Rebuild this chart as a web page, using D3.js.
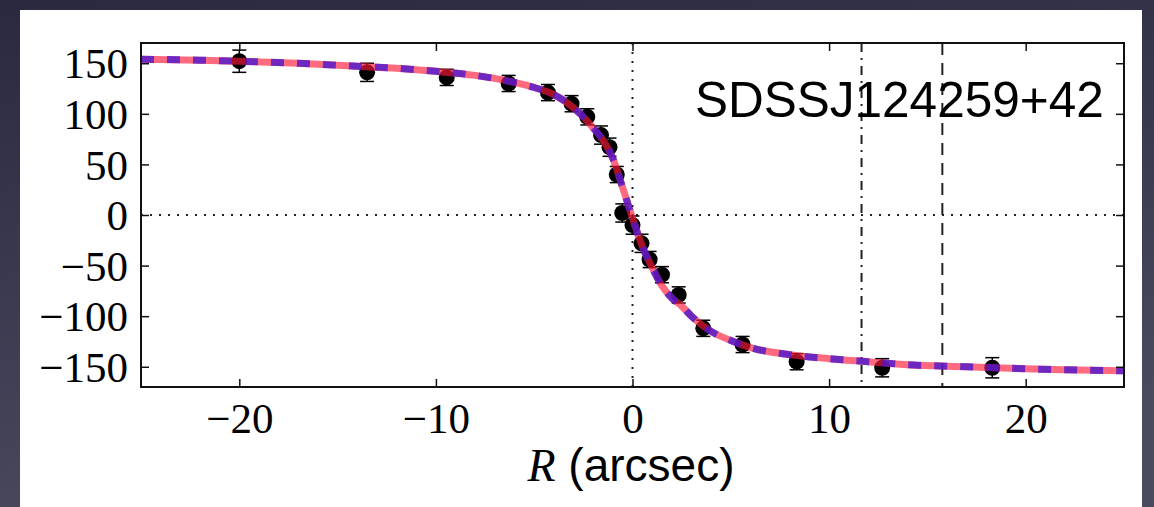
<!DOCTYPE html>
<html><head><meta charset="utf-8">
<script src="https://cdn.jsdelivr.net/npm/d3@7"></script>
<style>
html,body{margin:0;padding:0;width:1154px;height:507px;overflow:hidden;}
</style></head>
<body>
<svg id="c" width="1154" height="507"></svg>
<script>
// Data points (R in arcsec, V in km/s, error)
const pointR = [-20.0, -13.5, -9.45, -6.3, -4.3, -3.1, -2.3, -1.6, -1.17, -0.8, -0.52, 0.0, 0.46, 0.87, 1.5, 2.35, 3.6, 5.6, 8.35, 12.7, 18.3];
const pointV = [152, 141, 136, 130, 121, 110, 97, 79, 67, 40, 2, -10, -28, -44, -59, -79, -112, -128, -145, -151, -151];
const pointErr = [11, 9, 8, 8, 8, 8, 8, 9, 9, 8, 9, 9, 9, 8, 8, 8, 8, 8, 8, 9, 10];
// Model curve
const curveR = [-25, -22, -20, -17, -14, -12, -10, -8, -6, -5, -4, -3, -2.5, -2, -1.5, -1, -0.5, 0, 0.5, 1, 1.5, 2, 2.5, 3, 4, 5, 6, 8, 10, 12, 14, 17, 20, 22, 25];
const curveV = [154, 153, 152, 150, 147, 145, 142, 138, 131, 126, 119, 106, 97, 86, 74, 56, 27, -3, -31, -52, -70, -82, -90, -100, -115, -124, -131, -138, -142, -145, -148, -150, -152, -153, -154];
const xTicks = [-20, -10, 0, 10, 20];
const yTicks = [-150, -100, -50, 0, 50, 100, 150];
const vLinesDotted = [0];
const vLineDashDot = [11.65];
const vLineDashed = [15.76];
const title = "SDSSJ124259+42";

const svg = d3.select("#c");
const defs = svg.append("defs");
const g0 = defs.append("linearGradient").attr("id","bg").attr("x1","0").attr("y1","0").attr("x2","0.3").attr("y2","1");
g0.append("stop").attr("offset","0").attr("stop-color","#292a3f");
g0.append("stop").attr("offset","1").attr("stop-color","#4a4a5f");
svg.append("rect").attr("width",1154).attr("height",507).attr("fill","url(#bg)");
svg.append("rect").attr("x",20).attr("y",10).attr("width",1122).attr("height",510).attr("fill","#fff");

const L = 141, R = 1124, T = 43, B = 387;
const x = d3.scaleLinear().domain([-25, 25]).range([L, R]);
const y = d3.scaleLinear().domain([-170, 170]).range([B, T]);

const clip = defs.append("clipPath").attr("id","pc");
clip.append("rect").attr("x",L).attr("y",T).attr("width",R-L).attr("height",B-T);
const plot = svg.append("g").attr("clip-path","url(#pc)");

// reference lines
plot.append("line").attr("x1",L).attr("x2",R).attr("y1",y(0)).attr("y2",y(0))
  .attr("stroke","#222").attr("stroke-width",2).attr("stroke-dasharray","2,7");
vLinesDotted.forEach(v => plot.append("line").attr("x1",x(v)).attr("x2",x(v)).attr("y1",T).attr("y2",B)
  .attr("stroke","#222").attr("stroke-width",2).attr("stroke-dasharray","2,7"));
vLineDashDot.forEach(v => plot.append("line").attr("x1",x(v)).attr("x2",x(v)).attr("y1",T).attr("y2",B)
  .attr("stroke","#222").attr("stroke-width",2).attr("stroke-dasharray","9,6,2,6"));
vLineDashed.forEach(v => plot.append("line").attr("x1",x(v)).attr("x2",x(v)).attr("y1",T).attr("y2",B)
  .attr("stroke","#222").attr("stroke-width",2).attr("stroke-dasharray","12,8"));

// title text
svg.append("text").attr("x",695).attr("y",117).attr("font-family","Liberation Sans, Arial, sans-serif")
  .attr("font-size",49.5).attr("fill","#000").text(title);

// error bars
const pts = pointR.map((r,i)=>({r, v:pointV[i], e:pointErr[i]}));
const eb = plot.append("g").attr("stroke","#000").attr("stroke-width",1.5);
pts.forEach(p => {
  eb.append("line").attr("x1",x(p.r)).attr("x2",x(p.r)).attr("y1",y(p.v+p.e)).attr("y2",y(p.v-p.e));
  eb.append("line").attr("x1",x(p.r)-7).attr("x2",x(p.r)+7).attr("y1",y(p.v+p.e)).attr("y2",y(p.v+p.e));
  eb.append("line").attr("x1",x(p.r)-7).attr("x2",x(p.r)+7).attr("y1",y(p.v-p.e)).attr("y2",y(p.v-p.e));
});
plot.append("g").selectAll("circle").data(pts).join("circle")
  .attr("cx",d=>x(d.r)).attr("cy",d=>y(d.v)).attr("r",8).attr("fill","#000");

// model curves
const cdata = curveR.map((r,i)=>[r, curveV[i]]);
const line = d3.line().x(d=>x(d[0])).y(d=>y(d[1])).curve(d3.curveMonotoneX);
plot.append("path").attr("d",line(cdata)).attr("fill","none")
  .attr("stroke","#ff1a3a").attr("stroke-opacity",0.65).attr("stroke-width",7);
plot.append("path").attr("d",line(cdata)).attr("fill","none")
  .attr("stroke","#4a18d0").attr("stroke-opacity",0.8).attr("stroke-width",7).attr("stroke-dasharray","13,13");

// frame
svg.append("rect").attr("x",L).attr("y",T).attr("width",R-L).attr("height",B-T)
  .attr("fill","none").attr("stroke","#111").attr("stroke-width",2);

// axes with inward ticks
const serif = "Liberation Serif, DejaVu Serif, serif";
const fmt = v => (v < 0 ? "\u2212" + Math.abs(v) : String(v));
const axB = svg.append("g").attr("transform",`translate(0,${B})`)
  .call(d3.axisBottom(x).tickValues(xTicks).tickSizeInner(-8).tickSizeOuter(0).tickPadding(16).tickFormat(fmt));
const axT = svg.append("g").attr("transform",`translate(0,${T})`)
  .call(d3.axisTop(x).tickValues(xTicks).tickSizeInner(-8).tickSizeOuter(0).tickFormat(""));
const axL = svg.append("g").attr("transform",`translate(${L},0)`)
  .call(d3.axisLeft(y).tickValues(yTicks).tickSizeInner(-8).tickSizeOuter(0).tickPadding(13).tickFormat(fmt));
const axRt = svg.append("g").attr("transform",`translate(${R},0)`)
  .call(d3.axisRight(y).tickValues(yTicks).tickSizeInner(-8).tickSizeOuter(0).tickFormat(""));
[axB, axT, axL, axRt].forEach(a => {
  a.select(".domain").remove();
  a.selectAll(".tick line").attr("stroke","#111").attr("stroke-width",1.5);
  a.selectAll("text").attr("font-family",serif).attr("font-size",43).attr("fill","#000");
});
axL.selectAll("text").attr("dy","0.34em");
axB.selectAll("text").attr("dy","0.7em");

// x label
const xl = svg.append("text").attr("x",631).attr("y",481).attr("text-anchor","middle").attr("fill","#000");
xl.append("tspan").attr("font-family",serif).attr("font-style","italic").attr("font-size",46).text("R");
xl.append("tspan").attr("font-family","Liberation Sans, Arial, sans-serif").attr("font-size",46).text(" (arcsec)");
</script>
</body></html>
